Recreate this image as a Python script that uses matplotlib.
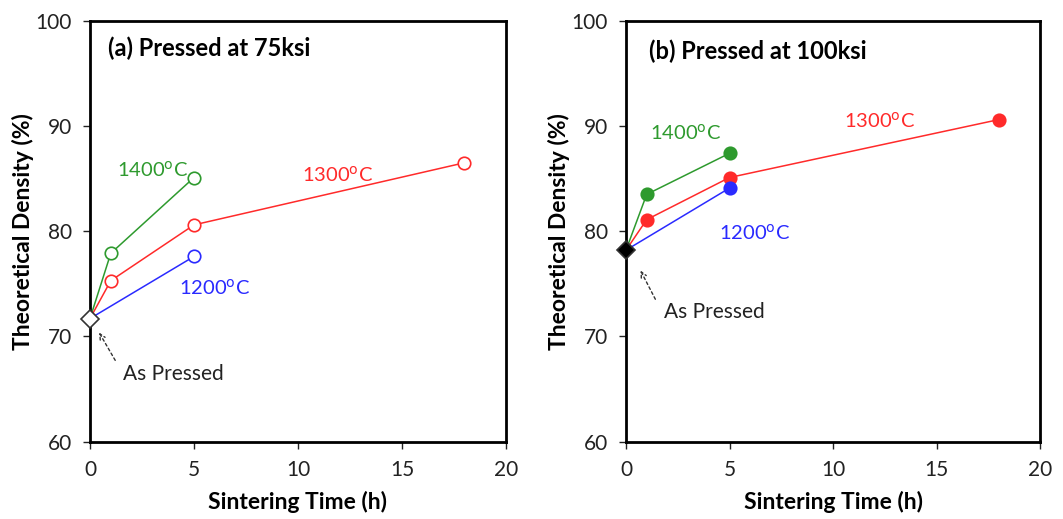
import matplotlib
matplotlib.use("Agg")
import matplotlib.pyplot as plt

plt.rcParams['font.family'] = ['Lato', 'DejaVu Sans']

# Data
time_1 = [0, 1, 5]
time_5 = [0, 5]
time_13 = [0, 1, 5, 18]

# (a) 75 ksi
a_base = 71.7
a_1400 = [71.7, 77.9, 85.1]
a_1300 = [71.7, 75.3, 80.6, 86.5]
a_1200 = [71.7, 77.6]

# (b) 100 ksi
b_base = 78.2
b_1400 = [78.2, 83.5, 87.4]
b_1300 = [78.2, 81.1, 85.1, 90.6]
b_1200 = [78.2, 84.1]

titles = ["(a) Pressed at 75ksi", "(b) Pressed at 100ksi"]
xticks = [0, 5, 10, 15, 20]
yticks = [60, 70, 80, 90, 100]

GREEN = '#2e9a2e'
RED = '#ff2a2a'
BLUE = '#2a2aff'

fig = plt.figure(figsize=(10.63, 5.19), dpi=100)
W, H = 1063, 519
axA = fig.add_axes([90 / W, 1 - 441.7 / H, 416 / W, 421 / H])
axB = fig.add_axes([626 / W, 1 - 441.7 / H, 414 / W, 421 / H])

def setup(ax):
    ax.set_xlim(0, 20)
    ax.set_ylim(60, 100)
    ax.set_xticks(xticks)
    ax.set_yticks(yticks)
    ax.tick_params(direction='out', length=5, width=1, labelsize=15, colors='#222222', pad=8)
    for s in ax.spines.values():
        s.set_linewidth(2)
    ax.set_xlabel("Sintering Time (h)", fontsize=16.5, fontweight='bold', labelpad=8)
    ax.set_ylabel("Theoretical Density (%)", fontsize=16.5, fontweight='bold', labelpad=1)

def panel(ax, s1400, s1300, s1200, base, filled, title, pos):
    setup(ax)
    ms = 9
    for x, y, c in [(time_1, s1400, GREEN), (time_13, s1300, RED), (time_5, s1200, BLUE)]:
        ax.plot(x, y, '-', color=c, lw=1.1, zorder=2)
        ax.plot(x[1:], y[1:], 'o', ms=ms, mec=c, mew=1.2,
                mfc=c if filled else 'white', zorder=3, clip_on=False)
    ax.plot([0], [base], 'D', ms=9, mec='#333333', mew=1.2,
            mfc='black' if filled else 'white', zorder=4, clip_on=False)
    ax.text(pos['title'][0], pos['title'][1], title, fontsize=17, fontweight='bold', va='center', ha='left')
    sup = r"$^{\mathrm{o}}$"
    ax.text(*pos['1400'], "1400" + sup + "C", color=GREEN, fontsize=14.5, va='center', ha='left')
    ax.text(*pos['1300'], "1300" + sup + "C", color=RED, fontsize=14.5, va='center', ha='left')
    ax.text(*pos['1200'], "1200" + sup + "C", color=BLUE, fontsize=14.5, va='center', ha='left')
    ax.text(*pos['as'], "As Pressed", color='#222222', fontsize=15, va='center', ha='left')
    ax.annotate("", xy=pos['head'], xytext=pos['tail'],
                arrowprops=dict(arrowstyle='->', linestyle=(0, (2, 2)), color='#333333', lw=1))

panel(axA, a_1400, a_1300, a_1200, a_base, False, titles[0],
      {'title': (0.85, 97.4), '1400': (1.3, 85.8), '1300': (10.2, 85.4),
       '1200': (4.3, 74.6), 'as': (1.6, 66.4), 'head': (0.37, 70.6), 'tail': (1.28, 67.5)})
panel(axB, b_1400, b_1300, b_1200, b_base, True, titles[1],
      {'title': (1.1, 97.1), '1400': (1.15, 89.4), '1300': (10.55, 90.5),
       '1200': (4.5, 79.9), 'as': (1.85, 72.3), 'head': (0.64, 76.5), 'tail': (1.48, 73.3)})

fig.savefig("out.png", dpi=100)
